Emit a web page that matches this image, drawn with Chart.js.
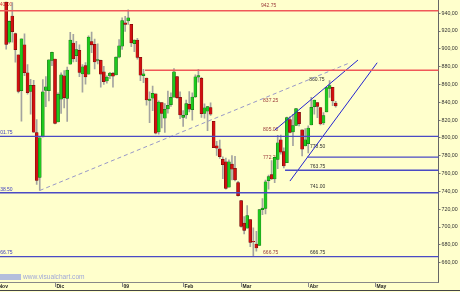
<!DOCTYPE html>
<html>
<head>
<meta charset="utf-8">
<script src="https://cdn.jsdelivr.net/npm/chart.js@4"></script>
<style>
  html, body { margin: 0; padding: 0; background: #ffffcc; }
</style>
</head>
<body>
<canvas id="chart" width="460" height="292"></canvas>
<script>
// daily candles, one per trading day (index 0 = first visible bar)
const opens = [952.4, 907.4, 936.8, 917.2, 893.4, 853.1, 904.4, 873.2, 852.3, 859.0,
  805.9, 755.8, 801.2, 853.4, 852.9, 886.9, 888.6, 817.9, 843.6, 869.8,
  844.4, 882.7, 906.5, 892.2, 898.4, 871.8, 881.1, 871.5, 908.2, 905.0,
  887.0, 887.2, 874.3, 863.9, 869.5, 872.4, 870.6, 890.6, 903.0, 929.2,
  931.2, 927.5, 905.7, 909.9, 890.4, 869.8, 867.3, 842.0, 844.5, 849.6,
  806.8, 839.7, 822.2, 832.5, 837.3, 845.7, 868.9, 845.7, 823.1, 825.7,
  837.8, 831.8, 846.1, 868.2, 866.9, 827.4, 829.9, 834.0, 818.6, 791.1,
  787.9, 775.9, 773.3, 744.7, 770.6, 765.8, 749.9, 729.6, 704.4, 698.6,
  708.3, 684.0, 680.8, 679.3, 719.6, 720.9, 752.0, 758.8, 753.9, 776.0,
  797.9, 784.6, 772.3, 820.6, 806.8, 814.1, 828.7, 809.1, 790.9, 793.6,
  814.5, 835.1, 839.8, 834.1, 816.8, 829.3, 855.7, 856.9, 839.0];
const highs = [952.4, 931.5, 952.0, 917.7, 893.4, 911.3, 916.9, 882.3, 865.9, 864.6,
  820.5, 801.2, 865.6, 868.9, 887.7, 896.3, 888.6, 850.5, 873.1, 875.6,
  879.4, 918.6, 916.3, 908.3, 904.6, 882.3, 884.6, 914.7, 918.9, 911.0,
  905.5, 887.4, 880.4, 869.8, 873.7, 873.7, 891.1, 910.3, 934.7, 936.6,
  943.9, 927.5, 910.0, 911.9, 890.4, 877.0, 867.3, 851.6, 858.1, 849.6,
  841.7, 839.7, 838.6, 852.5, 850.5, 877.9, 868.9, 851.7, 830.8, 842.6,
  851.9, 850.6, 870.8, 877.0, 868.1, 838.2, 835.5, 839.4, 818.6, 796.2,
  797.6, 778.7, 777.5, 775.5, 780.1, 779.4, 751.3, 729.6, 711.7, 724.1,
  708.3, 699.1, 695.3, 719.6, 731.9, 752.6, 758.3, 774.5, 778.1, 803.0,
  803.2, 788.9, 823.4, 823.9, 826.5, 833.0, 828.7, 809.1, 810.5, 813.6,
  845.6, 842.5, 839.8, 834.1, 828.4, 856.9, 864.3, 856.9, 841.0];
const lows = [899.7, 906.1, 907.5, 884.9, 850.5, 818.7, 869.9, 849.0, 826.8, 806.2,
  747.8, 741.0, 801.0, 835.0, 841.4, 881.2, 815.7, 817.9, 827.6, 833.6,
  818.4, 882.7, 885.4, 885.5, 868.7, 851.4, 860.2, 871.5, 895.8, 877.4,
  883.0, 857.1, 860.1, 861.4, 866.5, 857.1, 870.6, 889.7, 899.4, 919.5,
  927.3, 902.4, 896.8, 888.3, 864.3, 862.0, 836.9, 817.0, 830.7, 804.5,
  804.3, 811.3, 806.1, 827.7, 835.4, 845.7, 844.2, 821.7, 812.9, 822.0,
  829.2, 819.9, 845.4, 862.5, 823.0, 822.3, 808.1, 825.2, 789.2, 780.4,
  777.0, 754.3, 742.4, 744.7, 752.9, 751.8, 734.5, 699.7, 692.3, 698.6,
  677.9, 666.8, 672.9, 679.3, 713.9, 714.8, 742.5, 753.4, 749.9, 765.6,
  781.8, 766.2, 772.3, 805.5, 791.4, 814.1, 813.4, 779.8, 790.9, 783.3,
  814.5, 826.7, 822.8, 814.5, 814.8, 829.3, 845.4, 836.3, 834.5];
const closes = [904.9, 931.0, 919.2, 899.0, 852.3, 911.3, 873.3, 850.8, 859.1, 806.6,
  752.4, 800.0, 851.8, 857.4, 887.7, 896.2, 816.2, 848.8, 870.7, 845.2,
  876.1, 909.7, 888.7, 899.2, 873.6, 879.7, 868.6, 913.2, 904.4, 885.3,
  887.9, 871.6, 863.2, 868.2, 872.8, 869.4, 890.6, 903.3, 931.8, 927.5,
  934.7, 906.7, 909.7, 890.4, 870.3, 871.8, 842.6, 843.7, 850.1, 805.2,
  840.2, 827.5, 832.0, 836.6, 845.7, 874.1, 845.1, 825.9, 825.4, 838.5,
  832.2, 845.9, 868.6, 869.9, 827.2, 833.7, 835.2, 826.8, 789.2, 788.4,
  778.9, 770.1, 743.3, 773.1, 764.9, 752.8, 735.1, 700.8, 696.3, 712.9,
  682.6, 683.4, 676.5, 719.6, 721.4, 750.7, 756.6, 753.9, 778.1, 794.4,
  784.0, 768.5, 822.9, 806.1, 813.9, 832.9, 815.9, 787.5, 797.9, 811.1,
  834.4, 842.5, 835.5, 815.6, 825.2, 856.6, 858.7, 841.5, 836.0];

// month tick labels on the time axis (trading-day index of first day)
const monthLabels = ['Nov', 'Dic', '09', 'Feb', 'Mar', 'Abr', 'May'];
const monthStarts = [-3, 16, 38, 58, 77, 99, 121];

// price axis ticks
const priceTicks = [660, 680, 700, 720, 740, 760, 780, 800, 820, 840, 860, 880, 900, 920, 940];

// drawn support / resistance levels and where they start
const redLevels = [942.75, 876.0];
const redFrom = [-3, 45.5];
const blueLevels = [801.75, 778.5, 763.75, 738.5, 666.75];
const blueFrom = [-3, 98.6, 91.4, -3, -3];

// trend lines: [startIndex, startPrice, endIndex, endPrice]
const dashedTrend = [11, 741.0, 112.7, 884.4];
const channelTop = [88.1, 808.9, 115.3, 887.4];
const channelBottom = [93.0, 751.6, 121.6, 884.4];

const X_MIN = -2.03, X_MAX = 141.7;
const Y_MIN = 638.3, Y_MAX = 954.8;

// text notes on the chart: [text, index, price, colour]
const notes = [
  ['940.00', -3.0, 949.1, '#d84040'],
  ['942.75', 83.5, 948.0, '#9a3a3a'],
  ['801.75', -2.9, 805.8, '#4040c0'],
  ['738.50', -2.9, 742.3, '#4040c0'],
  ['666.75', -2.9, 671.1, '#4040c0'],
  ['860.75', 99.3, 865.0, '#303030'],
  ['837.25', 84.2, 841.7, '#9a3a3a'],
  ['805.00', 84.2, 809.6, '#9a3a3a'],
  ['772.25', 84.2, 778.0, '#9a3a3a'],
  ['778.50', 99.6, 790.1, '#303030'],
  ['763.75', 99.6, 767.7, '#303030'],
  ['741.00', 99.6, 745.2, '#303030'],
  ['666.75', 99.6, 671.1, '#303030'],
  ['666.75', 84.2, 671.1, '#9a3a3a']
];

const idx = opens.map((_, i) => i);
const wickData = idx.map(i => ({ x: i, y: [lows[i], highs[i]] }));
const bodyData = idx.map(i => ({ x: i, y: [opens[i], closes[i]] }));
const bodyColors = idx.map(i => closes[i] >= opens[i] ? '#1ec81e' : '#d01010');
const bodyEdges = idx.map(i => closes[i] >= opens[i] ? '#106010' : '#600808');

function segment(x0, y0, x1, y1) {
  return [{ x: x0, y: y0 }, { x: x1, y: y1 }];
}

const lineDatasets = [];
redLevels.forEach((v, k) => {
  lineDatasets.push({ type: 'line', data: segment(redFrom[k], v, X_MAX + 2, v),
    borderColor: '#f05858', borderWidth: 1.4, pointRadius: 0, order: 0 });
});
blueLevels.forEach((v, k) => {
  lineDatasets.push({ type: 'line', data: segment(blueFrom[k], v, X_MAX + 2, v),
    borderColor: '#4a4ac4', borderWidth: 1.4, pointRadius: 0, order: 0 });
});
lineDatasets.push({ type: 'line', data: segment(...dashedTrend),
  borderColor: '#9898c8', borderWidth: 1, borderDash: [4, 3], pointRadius: 0, order: 0 });
lineDatasets.push({ type: 'line', data: segment(...channelTop),
  borderColor: '#2424d0', borderWidth: 1, pointRadius: 0, order: 0 });
lineDatasets.push({ type: 'line', data: segment(...channelBottom),
  borderColor: '#2424d0', borderWidth: 1, pointRadius: 0, order: 0 });

const background = {
  id: 'background',
  beforeDraw(chart) {
    const c = chart.ctx;
    c.save();
    c.fillStyle = '#ffffcc';
    c.fillRect(0, 0, chart.width, chart.height);
    c.restore();
  }
};

const notesPlugin = {
  id: 'notes',
  beforeDatasetsDraw(chart) {
    const c = chart.ctx, xs = chart.scales.x, ys = chart.scales.y;
    c.save();
    c.font = '5px "Liberation Sans", Arial, sans-serif';
    c.textBaseline = 'middle';
    c.textAlign = 'left';
    notes.forEach(([t, i, v, col]) => {
      c.fillStyle = col;
      c.fillText(t, xs.getPixelForValue(i), ys.getPixelForValue(v));
    });
    // watermark
    c.fillStyle = '#b4bedc';
    c.fillRect(0, 274, 21, 6);
    c.fillStyle = '#a0a8d8';
    c.font = '6.6px "Liberation Sans", Arial, sans-serif';
    c.fillText('www.visualchart.com', 23, 277.5);
    c.restore();
  }
};

const timeAxis = {
  id: 'timeAxis',
  afterDraw(chart) {
    const c = chart.ctx, xs = chart.scales.x, area = chart.chartArea;
    c.save();
    c.strokeStyle = '#888';
    c.lineWidth = 1;
    c.beginPath();
    c.moveTo(0, area.bottom + 0.5);
    c.lineTo(area.right, area.bottom + 0.5);
    c.stroke();
    c.font = 'bold 5px "Liberation Sans", Arial, sans-serif';
    c.fillStyle = '#222';
    c.textBaseline = 'middle';
    monthLabels.forEach((lab, k) => {
      const px = Math.round(xs.getPixelForValue(monthStarts[k])) + 0.5;
      c.beginPath();
      c.moveTo(px, area.bottom);
      c.lineTo(px, area.bottom + 5);
      c.stroke();
      c.fillText(lab, px + 1, area.bottom + 5);
    });
    c.strokeStyle = '#444';
    c.beginPath();
    c.moveTo(0, chart.height - 1.5);
    c.lineTo(chart.width, chart.height - 1.5);
    c.stroke();
    c.restore();
  }
};

new Chart(document.getElementById('chart'), {
  type: 'bar',
  data: {
    datasets: [
      ...lineDatasets,
      { data: bodyData, backgroundColor: bodyColors, borderColor: bodyEdges, borderWidth: 0.5,
        borderSkipped: false, barThickness: 3, grouped: false, order: 1 },
      { data: wickData, backgroundColor: '#a4a4a0', barThickness: 1, grouped: false, order: 2 }
    ]
  },
  plugins: [background, notesPlugin, timeAxis],
  options: {
    responsive: false,
    animation: false,
    layout: { padding: { left: 0, right: 0, top: 0, bottom: 10 } },
    plugins: { legend: { display: false }, tooltip: { enabled: false } },
    scales: {
      x: { type: 'linear', min: X_MIN, max: X_MAX, display: false, offset: false },
      y: {
        position: 'right',
        min: Y_MIN,
        max: Y_MAX,
        afterBuildTicks: s => { s.ticks = priceTicks.map(v => ({ value: v })); },
        afterFit: s => { s.width = 21.5; s.paddingTop = 0; s.paddingBottom = 0; },
        ticks: {
          callback: v => v.toFixed(2).replace('.', ','),
          font: { size: 5.3, family: '"Liberation Sans", Arial, sans-serif' },
          color: '#333',
          padding: 1
        },
        grid: { drawOnChartArea: false, drawTicks: true, tickLength: 2, color: '#777' },
        border: { display: true, color: '#666', width: 1 }
      }
    }
  }
});
</script>
</body>
</html>
